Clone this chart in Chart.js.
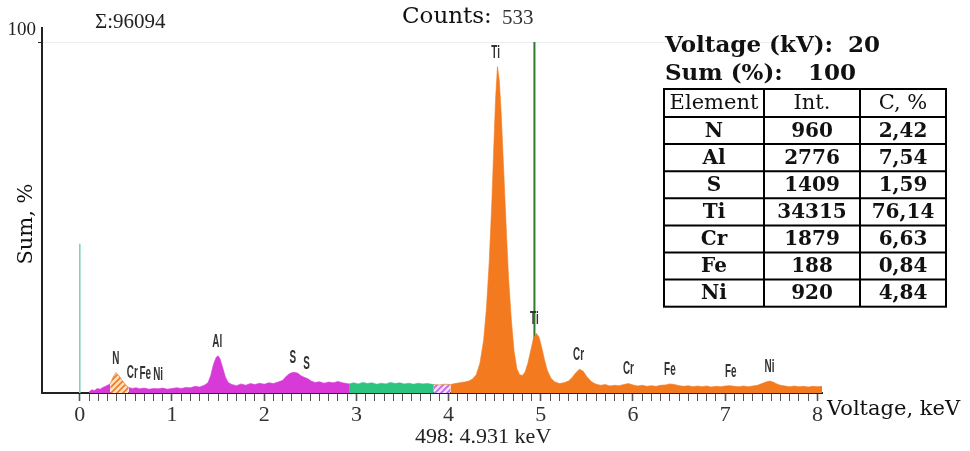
<!DOCTYPE html>
<html>
<head>
<meta charset="utf-8">
<script src="https://cdn.jsdelivr.net/npm/chart.js@4.4.0/dist/chart.umd.min.js"></script>
<style>
  html, body { margin: 0; padding: 0; background: #fff; }
  canvas { display: block; }
</style>
</head>
<body>
<canvas id="spectrum" width="970" height="451"></canvas>
<script>
// spectrum: energy (keV) and level (% of full scale)
const energyKeV = [
  0.10, 0.13, 0.16, 0.19, 0.22, 0.25, 0.28, 0.30, 0.33, 0.36, 0.39, 0.42, 0.46, 0.50, 0.53,
  0.57, 0.61, 0.65, 0.70, 0.75, 0.80, 0.85, 0.90, 0.95, 1.00, 1.05, 1.10, 1.15, 1.20, 1.25,
  1.30, 1.35, 1.39, 1.42, 1.45, 1.48, 1.50, 1.52, 1.55, 1.58, 1.61, 1.65, 1.70, 1.75, 1.80,
  1.85, 1.90, 1.95, 2.00, 2.05, 2.10, 2.15, 2.20, 2.24, 2.28, 2.32, 2.36, 2.40, 2.44, 2.47,
  2.51, 2.55, 2.60, 2.65, 2.70, 2.75, 2.80, 2.85, 2.92, 2.97, 3.02, 3.07, 3.12, 3.17, 3.22,
  3.27, 3.32, 3.37, 3.42, 3.47, 3.52, 3.57, 3.62, 3.67, 3.72, 3.77, 3.84, 3.90, 3.96, 4.02,
  4.07, 4.12, 4.17, 4.22, 4.26, 4.30, 4.34, 4.38, 4.41, 4.44, 4.47, 4.49, 4.51, 4.53, 4.55,
  4.57, 4.59, 4.61, 4.63, 4.65, 4.68, 4.71, 4.74, 4.77, 4.80, 4.83, 4.86, 4.89, 4.92, 4.95,
  4.98, 5.01, 5.04, 5.07, 5.11, 5.15, 5.20, 5.25, 5.30, 5.34, 5.38, 5.42, 5.46, 5.50, 5.55,
  5.60, 5.65, 5.70, 5.75, 5.80, 5.85, 5.90, 5.95, 6.00, 6.05, 6.10, 6.15, 6.20, 6.25, 6.30,
  6.35, 6.40, 6.45, 6.50, 6.55, 6.60, 6.65, 6.70, 6.75, 6.80, 6.85, 6.90, 6.95, 7.00, 7.05,
  7.10, 7.15, 7.20, 7.25, 7.30, 7.35, 7.40, 7.44, 7.48, 7.52, 7.56, 7.60, 7.65, 7.70, 7.75,
  7.80, 7.85, 7.90, 7.95, 8.00, 8.05
];
const levelPct = [
  0.3, 0.9, 0.7, 1.3, 1.1, 1.6, 1.9, 2.2, 2.6, 4.4, 5.8, 5.1, 3.6, 2.2, 1.6,
  1.3, 1.5, 1.2, 1.4, 1.1, 1.3, 1.2, 1.4, 1.1, 1.3, 1.5, 1.3, 1.6, 1.5, 1.9,
  1.7, 2.2, 2.9, 5.0, 8.2, 10.2, 10.6, 9.8, 7.2, 4.5, 3.0, 2.4, 2.1, 2.6, 2.2,
  2.7, 2.4, 2.8, 2.5, 2.9, 2.7, 3.1, 3.6, 4.8, 5.6, 5.9, 5.7, 4.9, 4.4, 4.1,
  3.4, 3.0, 3.2, 2.8, 3.1, 2.9, 3.3, 2.9, 2.6, 2.9, 2.6, 3.0, 2.7, 2.9, 2.5,
  2.8, 2.6, 3.0, 2.7, 2.9, 2.6, 2.8, 2.5, 2.8, 2.6, 2.7, 2.4, 2.3, 2.5, 2.4,
  2.7, 2.9, 3.1, 3.4, 4.0, 5.2, 8.5, 15, 24, 37, 55, 70, 84, 93, 89,
  80, 68, 56, 44, 33, 21, 12, 7, 5.2, 5.0, 6.0, 8.5, 12, 15.5, 17,
  16, 13, 9.5, 6.5, 4.2, 3.2, 2.7, 2.9, 3.4, 4.4, 5.8, 6.8, 6.2, 4.6, 3.2,
  2.5, 2.2, 2.4, 2.0, 2.2, 2.1, 2.4, 2.7, 2.3, 2.0, 2.2, 1.9, 2.1, 1.9, 2.2,
  2.3, 2.6, 2.4, 2.1, 1.9, 2.1, 1.8, 2.0, 1.8, 2.0, 1.7, 1.9, 1.8, 2.0, 2.1,
  1.9, 1.8, 2.0, 1.8, 2.0, 2.2, 2.7, 3.1, 3.4, 3.1, 2.6, 2.2, 2.0, 1.8, 2.0,
  1.8, 1.9, 1.7, 1.9, 1.8, 1.9
];

// colour bands of the spectrum (keV)
const bandStart = [0.10, 0.33, 0.53, 2.92, 3.84, 4.02];
const bandEnd   = [0.33, 0.53, 2.92, 3.84, 4.02, 8.05];
const bandFill  = ['magenta', 'orangeHatch', 'magenta', 'green', 'magentaHatch', 'orange'];

// peak markers
const peakSymbols = ['N', 'Cr', 'Fe', 'Ni', 'Al', 'S', 'S', 'Ti', 'Ti', 'Cr', 'Cr', 'Fe', 'Fe', 'Ni'];
const peakKeV = [0.39, 0.57, 0.71, 0.85, 1.49, 2.31, 2.46, 4.51, 4.93, 5.41, 5.95, 6.40, 7.06, 7.48];

// x ticks
const xTickLabels = ['0', '1', '2', '3', '4', '5', '6', '7', '8'];

// cursor and zero marker
const cursorKeV = 4.931;
const cursorChannel = 498;
const zeroMarkerPct = 42.5;

// header numbers
const sumCounts = 96094;
const cursorCounts = 533;
const voltageKV = 20;
const sumPct = 100;

// quantification table
const tableHeader = ['Element', 'Int.', 'C, %'];
const tableElements = ['N', 'Al', 'S', 'Ti', 'Cr', 'Fe', 'Ni'];
const tableIntensity = [960, 2776, 1409, 34315, 1879, 188, 920];
const tableConc = ['2,42', '7,54', '1,59', '76,14', '6,63', '0,84', '4,84'];

function makeHatch(line, back) {
  const c = document.createElement('canvas');
  c.width = 6; c.height = 6;
  const g = c.getContext('2d');
  g.fillStyle = back;
  g.fillRect(0, 0, 6, 6);
  g.strokeStyle = line;
  g.lineWidth = 1.6;
  g.beginPath();
  g.moveTo(-1, 7); g.lineTo(7, -1);
  g.moveTo(-4, 4); g.lineTo(4, -4);
  g.moveTo(2, 10); g.lineTo(10, 2);
  g.stroke();
  return g.createPattern(c, 'repeat');
}

const fills = {
  magenta: '#d83ad8',
  orange: '#f47a1f',
  green: '#2cc47e',
  orangeHatch: makeHatch('#f07a20', '#fde2c6'),
  magentaHatch: makeHatch('#c264f0', '#f4dcfb')
};

const spectrumSets = bandStart.map((start, b) => {
  const pts = [];
  energyKeV.forEach((e, i) => {
    if (e >= start - 1e-9 && e <= bandEnd[b] + 1e-9) pts.push({ x: e, y: levelPct[i] });
  });
  return {
    data: pts,
    fill: 'origin',
    backgroundColor: fills[bandFill[b]],
    borderColor: bandFill[b].indexOf('Hatch') >= 0 ? '#e09050' : fills[bandFill[b]],
    borderWidth: bandFill[b].indexOf('Hatch') >= 0 ? 0.8 : 0.6,
    pointRadius: 0,
    tension: 0
  };
});

const lineSets = [
  { data: [{ x: 0, y: 0 }, { x: 0, y: zeroMarkerPct }], borderColor: '#7fd3b6', borderWidth: 1.6, pointRadius: 0, fill: false },
  { data: [{ x: cursorKeV, y: 0 }, { x: cursorKeV, y: 100 }], borderColor: '#2f7a2a', borderWidth: 2, pointRadius: 0, fill: false }
];

function levelNear(e) {
  let m = 0;
  energyKeV.forEach((v, i) => { if (Math.abs(v - e) <= 0.04 && levelPct[i] > m) m = levelPct[i]; });
  return m;
}

const textPlugin = {
  id: 'texts',
  afterDraw(chart) {
    const ctx = chart.ctx;
    const xs = chart.scales.x, ys = chart.scales.y;
    ctx.save();

    // peak symbols
    ctx.fillStyle = '#333';
    ctx.textAlign = 'center';
    ctx.textBaseline = 'middle';
    ctx.font = 'bold 18px "Liberation Sans"';
    peakSymbols.forEach((s, i) => {
      const px = xs.getPixelForValue(peakKeV[i]);
      const py = ys.getPixelForValue(levelNear(peakKeV[i])) - 14;
      ctx.save();
      ctx.translate(px, py);
      ctx.scale(0.55, 1);
      ctx.fillText(s, 0, 0);
      ctx.restore();
    });

    // y axis title
    ctx.save();
    ctx.translate(27, 224);
    ctx.rotate(-Math.PI / 2);
    ctx.fillStyle = '#111';
    ctx.font = '21px "DejaVu Serif"';
    ctx.fillText('Sum, %', 0, 0);
    ctx.restore();

    // header texts
    ctx.textAlign = 'left';
    ctx.fillStyle = '#222';
    ctx.font = '21px "Liberation Serif"';
    ctx.fillText('\u03A3:' + sumCounts, 95, 22);
    ctx.fillStyle = '#111';
    ctx.font = '23px "DejaVu Serif"';
    ctx.fillText('Counts:', 402, 17);
    ctx.fillStyle = '#333';
    ctx.font = '21px "Liberation Serif"';
    ctx.fillText(String(cursorCounts), 502, 18);

    // cursor readout
    ctx.fillStyle = '#222';
    ctx.font = '22px "Liberation Serif"';
    ctx.fillText(cursorChannel + ': ' + cursorKeV.toFixed(3) + ' keV', 415, 437);

    // x axis title
    ctx.fillStyle = '#111';
    ctx.font = '21px "DejaVu Serif"';
    ctx.fillText('Voltage, keV', 827, 410);

    // voltage and sum
    ctx.font = 'bold 23px "DejaVu Serif"';
    ctx.fillText('Voltage (kV):', 665, 46);
    ctx.fillText(String(voltageKV), 848, 46);
    ctx.fillText('Sum (%):', 665, 74);
    ctx.fillText(String(sumPct), 808, 74);

    // table
    const left = 664, top = 89, cols = [664, 764, 860, 946];
    const headH = 28, rowH = 27.1;
    const rows = tableElements.length;
    const bottom = top + headH + rowH * rows;
    ctx.strokeStyle = '#000';
    ctx.lineWidth = 2;
    ctx.strokeRect(left, top, cols[3] - left, bottom - top);
    ctx.beginPath();
    cols.slice(1, 3).forEach(c => { ctx.moveTo(c, top); ctx.lineTo(c, bottom); });
    for (let r = 0; r < rows; r++) {
      const y = top + headH + rowH * r;
      ctx.moveTo(left, y); ctx.lineTo(cols[3], y);
    }
    ctx.stroke();

    ctx.textAlign = 'center';
    ctx.fillStyle = '#111';
    ctx.font = '21px "DejaVu Serif"';
    tableHeader.forEach((h, c) => ctx.fillText(h, (cols[c] + cols[c + 1]) / 2, top + headH / 2 + 1));
    ctx.font = 'bold 20px "DejaVu Serif"';
    tableElements.forEach((el, r) => {
      const y = top + headH + rowH * r + rowH / 2 + 1;
      ctx.fillText(el, (cols[0] + cols[1]) / 2, y);
      ctx.fillText(String(tableIntensity[r]), (cols[1] + cols[2]) / 2, y);
      ctx.fillText(tableConc[r], (cols[2] + cols[3]) / 2, y);
    });

    ctx.restore();
  }
};

new Chart(document.getElementById('spectrum'), {
  type: 'line',
  data: { datasets: spectrumSets.concat(lineSets) },
  options: {
    responsive: false,
    animation: false,
    devicePixelRatio: 1,
    layout: { padding: { top: 28, right: 148, left: 0, bottom: 0 } },
    plugins: { legend: { display: false }, tooltip: { enabled: false } },
    scales: {
      x: {
        type: 'linear',
        min: -0.41,
        max: 8.05,
        afterFit: (s) => { s.height = 58; },
        afterBuildTicks: (s) => { s.ticks = s.ticks.filter(t => t.value > -1e-6 && t.value < 8.001); },
        ticks: {
          stepSize: 0.1,
          autoSkip: false,
          includeBounds: false,
          maxRotation: 0,
          padding: 1,
          color: '#333',
          font: { family: 'Liberation Serif', size: 22 },
          callback: (v) => {
            const r = Math.round(v);
            return Math.abs(v - r) < 1e-6 ? xTickLabels[r] : '';
          }
        },
        grid: {
          drawOnChartArea: false,
          drawTicks: true,
          tickLength: 8,
          tickColor: '#555',
          tickWidth: (c) => (c.tick && Math.abs(c.tick.value - Math.round(c.tick.value)) < 1e-6 ? 1.6 : 1)
        },
        border: { display: true, color: '#222', width: 2 }
      },
      y: {
        min: 0,
        max: 104,
        afterFit: (s) => { s.width = 42; },
        afterBuildTicks: (s) => { s.ticks = [{ value: 100 }]; },
        ticks: {
          padding: 2,
          labelOffset: -12,
          color: '#222',
          font: { family: 'Liberation Serif', size: 19 },
          callback: (v) => String(v)
        },
        grid: { color: '#ededed', tickLength: 4, tickColor: '#222' },
        border: { display: true, color: '#222', width: 2 },
        title: { display: false }
      }
    }
  },
  plugins: [textPlugin]
});
</script>
</body>
</html>
